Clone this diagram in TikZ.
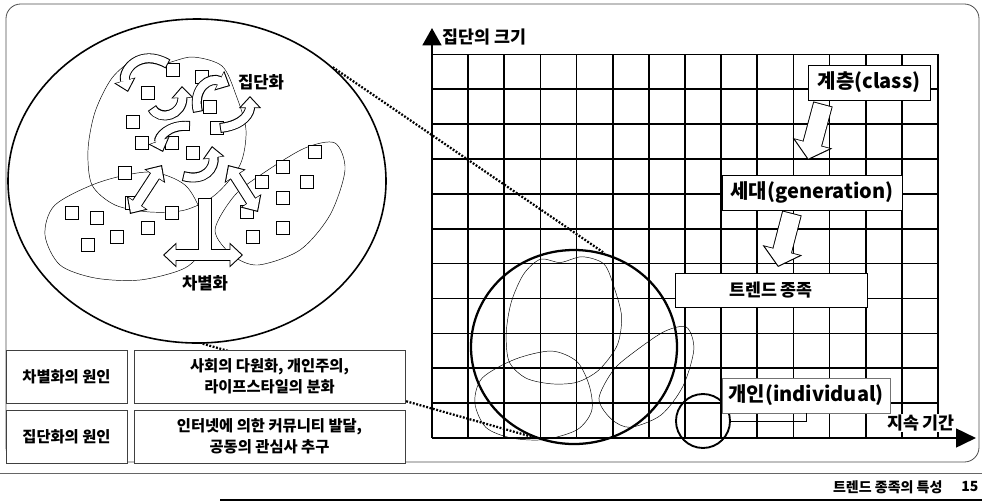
\documentclass[tikz,border=0pt]{standalone}
\usepackage{fontspec}
\setmainfont{Noto Sans CJK KR}
\usetikzlibrary{arrows.meta,shapes.geometric}

\tikzset{every picture/.style={line width=0.75pt}}
\tikzset{
  frame/.style={draw=black!70, line width=0.6pt, rounded corners=11pt},
  member/.style={draw, fill=white, minimum size=10pt, inner sep=0pt, line width=0.5pt},
  blob/.style={line width=0.35pt},
  smout/.style={line width=7.5pt, -{Triangle[length=9pt,width=16pt]}},
  smin/.style={white, line width=6pt, shorten >=1.2pt, shorten <=0.75pt, -{Triangle[length=7.4pt,width=13.2pt]}},
  dblout/.style={line width=8.5pt, {Triangle[length=10pt,width=18pt]}-{Triangle[length=10pt,width=18pt]}},
  dblin/.style={white, line width=7pt, shorten >=1.2pt, shorten <=1.2pt, {Triangle[length=8.3pt,width=15pt]}-{Triangle[length=8.3pt,width=15pt]}},
  bigout/.style={line width=15pt, -{Triangle[length=13pt,width=30pt]}},
  bigin/.style={white, line width=13.6pt, shorten >=1.1pt, shorten <=0.7pt, -{Triangle[length=11.3pt,width=26pt]}},
  gridline/.style={line width=1.2pt},
  axisline/.style={line width=2pt},
  zoomline/.style={line width=1.7pt, dash pattern=on 1.4pt off 1.2pt},
  tag/.style={draw, fill=white, line width=0.6pt, inner sep=1pt, font=\fontsize{15}{17}\selectfont\bfseries},
  cause/.style={draw=black!75, line width=0.5pt, fill=white, inner sep=1pt, minimum height=39.75pt, align=center, font=\fontsize{11.5}{16}\selectfont\bfseries},
  word/.style={inner sep=1pt, font=\fontsize{12.5}{14}\selectfont\bfseries}
}

% the three groups, drawn in the big circle and again on the grid
\newcommand{\groupblobs}{%
  \draw[blob] plot[smooth cycle] coordinates {(112,78) (135,60) (162,64) (192,57) (222,66) (236,95) (246,130) (240,165) (215,195) (185,210) (150,212) (115,205) (92,185) (88,150) (95,112)};
  \draw[blob] plot[smooth cycle] coordinates {(45,235) (55,205) (100,182) (150,172) (185,185) (202,215) (205,245) (185,268) (140,280) (95,278) (60,265)};
  \draw[blob] plot[smooth cycle] coordinates {(215,230) (235,195) (265,172) (305,148) (335,143) (345,170) (330,215) (300,250) (258,265) (232,255)};
}

\begin{document}
\begin{tikzpicture}[x=0.75pt,y=0.75pt,yscale=-1,xscale=1]
\useasboundingbox (0,0) rectangle (982,501);

%Frame
\draw[frame] (6,4) rectangle (979,462);

%Left circle: grouping and differentiation
\node[ellipse, draw, line width=1.2pt, minimum width=283.5pt, minimum height=243pt, inner sep=0pt] (grp) at (197,181) {};
\groupblobs
\foreach \x/\y [count=\k] in {173/70,202/77,148/93,210/107,133/122,217/128,142/143,172/143,193/153,125/173,315/152,283/167,262/182,307/182,283/198,132/203,72/213,97/218,172/213,247/212,148/228,117/237,88/245,253/237,283/228}
  \node[member] (m\k) at (\x,\y) {};

% block arrows, outlines first
\draw[smout] (168,64) .. controls (140,48) and (122,70) .. (128,92);
\draw[smout] (152,108) .. controls (160,122) and (183,115) .. (182,86);
\draw[smout] (198,112) .. controls (192,88) and (210,76) .. (230,86);
\draw[smout] (220,128) .. controls (245,125) and (250,112) .. (250,96);
\draw[smout] (190,126) .. controls (168,124) and (158,138) .. (163,152);
\draw[smout] (183,176) .. controls (205,182) and (215,168) .. (212,146);
\draw[line width=10pt] (205,198) -- (205,255);
\draw[dblout] (162,165) -- (130,214);
\draw[dblout] (228,165) -- (258,212);
\draw[dblout] (163,255) -- (243,255);
% then the white insides
\draw[smin] (168,64) .. controls (140,48) and (122,70) .. (128,92);
\draw[smin] (152,108) .. controls (160,122) and (183,115) .. (182,86);
\draw[smin] (198,112) .. controls (192,88) and (210,76) .. (230,86);
\draw[smin] (220,128) .. controls (245,125) and (250,112) .. (250,96);
\draw[smin] (190,126) .. controls (168,124) and (158,138) .. (163,152);
\draw[smin] (183,176) .. controls (205,182) and (215,168) .. (212,146);
\draw[white, line width=8.5pt, shorten <=0.75pt] (205,198) -- (205,255);
\draw[dblin] (162,165) -- (130,214);
\draw[dblin] (228,165) -- (258,212);
\draw[dblin] (163,255) -- (243,255);

\node[word] (grping) at (261,82) {집단화};
\node[word] (diffing) at (205,283) {차별화};

%Grid
\coordinate (orig) at (432,438);
\foreach \i in {1,...,14}
  \draw[gridline] (432+\i*36.143,54.3) -- (432+\i*36.143,438);
\foreach \j in {0,...,10}
  \draw[gridline] (432,54.3+\j*34.88) -- (938,54.3+\j*34.88);
\draw[axisline, -{Triangle[length=13pt,width=14pt]}] (orig) -- (432,28);
\draw[axisline, -{Triangle[length=15pt,width=14pt]}] (orig) -- (976,438);
\node[anchor=west, inner sep=1pt, font=\fontsize{13}{15}\selectfont\bfseries] (ylab) at (441,37) {집단의 크기};
\node[fill=white, inner sep=1pt, font=\fontsize{13}{15}\selectfont\bfseries] (xlab) at (921,423) {지속 기간};

%Tribe circle and individual circle
\begin{scope}[shift={(442,210)}, xscale=0.73, yscale=0.82]
  \groupblobs
\end{scope}
\node[ellipse, draw, line width=1.7pt, minimum width=154.5pt, minimum height=145.5pt, inner sep=0pt] (trib) at (574,347) {};
\node[circle, draw, line width=1.4pt, minimum size=40.5pt, inner sep=0pt] (indc) at (703,421) {};

\draw[zoomline] (grp.40) -- (trib.72);
\draw[zoomline] (grp.-88) -- (trib.-115);

%Labels on the grid
\node[tag, minimum width=91.5pt, minimum height=26.25pt] (class) at (869,82.5) {계층(class)};
\node[tag, minimum width=135pt, minimum height=26.25pt] (gen) at (812,192.5) {세대(generation)};
\node[tag, minimum width=144pt, minimum height=25.5pt, font=\fontsize{13}{15}\selectfont\bfseries] (trend) at (771,290) {트렌드 종족};
\node[tag, draw=black!55, minimum width=126pt, minimum height=26.25pt] (indiv) at (806,395.5) {개인(individual)};
\draw[line width=0.6pt] (indc.east) -| (indiv.south);

\coordinate (a1s) at (823,104);
\coordinate (a1e) at (808,160);
\coordinate (a2s) at (792,213);
\coordinate (a2e) at (778,267);
\draw[bigout] (a1s) -- (a1e);
\draw[bigin] (a1s) -- (a1e);
\draw[bigout] (a2s) -- (a2e);
\draw[bigin] (a2s) -- (a2e);

%Causes
\node[cause, minimum width=90.75pt] (dname) at (66.5,376.5) {차별화의 원인};
\node[cause, minimum width=203.25pt] (dwhy) at (269.5,376.5) {사회의 다원화, 개인주의,\\라이프스타일의 분화};
\node[cause, minimum width=90.75pt] (gname) at (66.5,436.5) {집단화의 원인};
\node[cause, minimum width=203.25pt] (gwhy) at (269.5,436.5) {인터넷에 의한 커뮤니티 발달,\\공동의 관심사 추구};

%Footer
\draw[line width=0.5pt, black!60] (0,473) -- (982,473);
\draw[line width=1.5pt] (220,499.5) -- (982,499.5);
\node[anchor=east, inner sep=0pt, font=\fontsize{10.5}{12}\selectfont\bfseries] (foot) at (943,487) {트렌드 종족의 특성};
\node[anchor=east, inner sep=0pt, font=\fontsize{10.5}{12}\selectfont\bfseries] (page) at (979,487) {15};

\end{tikzpicture}
\end{document}
